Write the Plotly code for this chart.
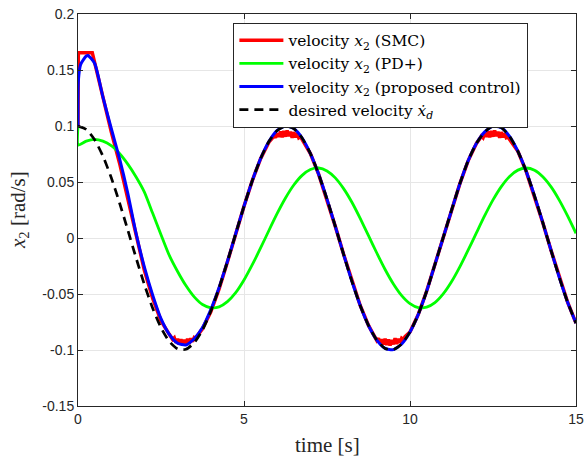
import plotly.graph_objects as go

# ---------------- data ----------------
# common time grid (s)
time = [0, 0.25, 0.5, 0.75, 1.0, 1.25, 1.5, 1.75, 2.0, 2.25, 2.5, 2.75, 3.0, 3.25, 3.5, 3.75,
        4.0, 4.25, 4.5, 4.75, 5.0, 5.25, 5.5, 5.75, 6.0, 6.25, 6.5, 6.75, 7.0, 7.25, 7.5, 7.75,
        8.0, 8.25, 8.5, 8.75, 9.0, 9.25, 9.5, 9.75, 10.0, 10.25, 10.5, 10.75, 11.0, 11.25, 11.5,
        11.75, 12.0, 12.25, 12.5, 12.75, 13.0, 13.25, 13.5, 13.75, 14.0, 14.25, 14.5, 14.75, 15.0]

# desired velocity (black dashed)
desired_vel = [0.1000, 0.0969, 0.0878, 0.0732, 0.0540, 0.0315, 0.0071, -0.0178, -0.0416, -0.0628,
               -0.0801, -0.0924, -0.0990, -0.0994, -0.0936, -0.0821, -0.0654, -0.0446, -0.0211,
               0.0038, 0.0284, 0.0512, 0.0709, 0.0861, 0.0960, 0.1000, 0.0977, 0.0893, 0.0754,
               0.0568, 0.0347, 0.0104, -0.0146, -0.0387, -0.0602, -0.0781, -0.0911, -0.0986,
               -0.0997, -0.0946, -0.0839, -0.0682, -0.0476, -0.0237, 0.0004, 0.0246, 0.0483,
               0.0689, 0.0844, 0.0947, 0.0998, 0.0986, 0.0907, 0.0774, 0.0595, 0.0376, 0.0137,
               -0.0112, -0.0355, -0.0576, -0.0760]

# PD+ (green)
pd_time = [0, 0.01] + time[1:]
pd_vel = [0.1000, 0.0830, 0.0865, 0.0880, 0.0865, 0.0825, 0.0755, 0.0660, 0.0545, 0.0410, 0.0220,
          0.0030, -0.0155, -0.0299, -0.0425, -0.0526, -0.0594, -0.0623, -0.0615, -0.0568,
          -0.0488, -0.0375, -0.0238, -0.0089, 0.0067, 0.0219, 0.0357, 0.0473, 0.0559, 0.0611,
          0.0625, 0.0599, 0.0537, 0.0441, 0.0319, 0.0175, 0.0021, -0.0134, -0.0281, -0.0410,
          -0.0514, -0.0586, -0.0622, -0.0618, -0.0577, -0.0499, -0.0391, -0.0258, -0.0109,
          0.0046, 0.0199, 0.0340, 0.0459, 0.0550, 0.0606, 0.0625, 0.0605, 0.0547, 0.0456,
          0.0336, 0.0195, 0.0042]

# proposed control (blue)
prop_time = [0, 0.01, 0.08, 0.25, 0.3, 0.5, 0.75, 1.0, 1.25, 1.5, 1.75, 2.0, 2.25, 2.5, 2.75,
             3.0, 3.25, 3.5, 3.75, 4.0, 4.25, 4.5] + time[19:]
prop_vel = [0.1000, 0.1400, 0.1550, 0.1625, 0.1630, 0.1560, 0.1260, 0.0980, 0.0710, 0.0400,
            0.0040, -0.0260, -0.0510, -0.0720, -0.0860, -0.0940, -0.0955, -0.0900, -0.0800,
            -0.0640, -0.0442, -0.0210] + desired_vel[19:]

# SMC (red) - transient, chattering around the extrema
smc_time = [0, 0.01, 0.43, 0.5, 0.75, 1.0, 1.25, 1.5, 1.75, 2.0, 2.25, 2.5, 2.75,
            2.8, 2.85, 2.9, 2.95, 3.0, 3.05, 3.1, 3.15, 3.2, 3.25, 3.3, 3.35, 3.4, 3.45, 3.5, 3.55, 3.6,
            3.75, 4.0, 4.25, 4.5, 4.75, 5.0, 5.25, 5.5, 5.75,
            5.85, 5.9, 5.95, 6.0, 6.05, 6.1, 6.15, 6.2, 6.25, 6.3, 6.35, 6.4, 6.45, 6.5, 6.55, 6.6, 6.65, 6.7, 6.75,
            7.0, 7.25, 7.5, 7.75, 8.0, 8.25, 8.5, 8.75,
            8.95, 9.0, 9.05, 9.1, 9.15, 9.2, 9.25, 9.3, 9.35, 9.4, 9.45, 9.5, 9.55, 9.6, 9.65, 9.7, 9.75, 9.8, 9.85,
            10.0, 10.25, 10.5, 10.75, 11.0, 11.25, 11.5, 11.75, 12.0,
            12.1, 12.15, 12.2, 12.25, 12.3, 12.35, 12.4, 12.45, 12.5, 12.55, 12.6, 12.65, 12.7, 12.75, 12.8, 12.85, 12.9, 12.95, 13.0,
            13.25, 13.5, 13.75, 14.0, 14.25, 14.5, 14.75, 15.0]
smc_vel = [0.1000, 0.1655, 0.1655, 0.1570, 0.1240, 0.0950, 0.0670, 0.0350, 0.0000, -0.0290, -0.0540, -0.0740, -0.0860,
           -0.0880, -0.0905, -0.0890, -0.0935, -0.0900, -0.0950, -0.0905, -0.0955, -0.0910, -0.0950, -0.0900,
           -0.0945, -0.0895, -0.0925, -0.0890, -0.0900, -0.0870,
           -0.0810, -0.0660, -0.0455, -0.0215, 0.0038, 0.0284, 0.0512, 0.0709, 0.0855,
           0.0890, 0.0920, 0.0895, 0.0935, 0.0905, 0.0950, 0.0900, 0.0955, 0.0905, 0.0960, 0.0910, 0.0950,
           0.0895, 0.0945, 0.0900, 0.0935, 0.0895, 0.0905, 0.0880,
           0.0754, 0.0568, 0.0347, 0.0104, -0.0146, -0.0387, -0.0602, -0.0781,
           -0.0890, -0.0915, -0.0895, -0.0935, -0.0905, -0.0950, -0.0900, -0.0955, -0.0905, -0.0960, -0.0910,
           -0.0950, -0.0895, -0.0945, -0.0900, -0.0935, -0.0895, -0.0905, -0.0880,
           -0.0839, -0.0682, -0.0476, -0.0237, 0.0004, 0.0246, 0.0483, 0.0689, 0.0844,
           0.0885, 0.0910, 0.0895, 0.0935, 0.0905, 0.0950, 0.0900, 0.0955, 0.0905, 0.0960, 0.0910, 0.0950,
           0.0895, 0.0945, 0.0900, 0.0935, 0.0895, 0.0900, 0.0880,
           0.0774, 0.0595, 0.0376, 0.0137, -0.0112, -0.0355, -0.0576, -0.0760]

series_names = ["velocity <i>x</i><sub>2</sub> (SMC)",
                "velocity <i>x</i><sub>2</sub> (PD+)",
                "velocity <i>x</i><sub>2</sub> (proposed control)",
                "desired velocity <i>ẋ</i><sub><i>d</i></sub>"]

x_tick_vals = [0, 5, 10, 15]
x_tick_text = ["0", "5", "10", "15"]
y_tick_vals = [-0.15, -0.1, -0.05, 0, 0.05, 0.1, 0.15, 0.2]
y_tick_text = ["-0.15", "-0.1", "-0.05", "0", "0.05", "0.1", "0.15", "0.2"]

# ---------------- figure ----------------
fig = go.Figure()
fig.add_trace(go.Scatter(x=smc_time, y=smc_vel, mode="lines", name=series_names[0],
                         line=dict(color="#ff0000", width=3.5)))
fig.add_trace(go.Scatter(x=pd_time, y=pd_vel, mode="lines", name=series_names[1],
                         line=dict(color="#00ff00", width=2.8, shape="spline", smoothing=0.6)))
fig.add_trace(go.Scatter(x=prop_time, y=prop_vel, mode="lines", name=series_names[2],
                         line=dict(color="#0000ff", width=3.0, shape="spline", smoothing=0.6)))
fig.add_trace(go.Scatter(x=time, y=desired_vel, mode="lines", name=series_names[3],
                         line=dict(color="#000000", width=2.7, dash="9px,6px", shape="spline", smoothing=0.6)))

axis_common = dict(showline=True, linecolor="#262626", linewidth=1, mirror="allticks",
                   ticks="inside", ticklen=5, tickcolor="#262626", tickwidth=1,
                   showgrid=True, gridcolor="#e6e6e6", gridwidth=1, zeroline=False,
                   automargin=False,
                   tickfont=dict(family="Liberation Sans, Arial", size=14, color="#262626"))

fig.update_xaxes(range=[0, 15], tickvals=x_tick_vals, ticktext=x_tick_text, **axis_common)
fig.update_yaxes(range=[-0.15, 0.2], tickvals=y_tick_vals, ticktext=y_tick_text, **axis_common)

fig.add_annotation(text="time [s]", xref="paper", yref="paper", x=0.5, y=-0.0995,
                   xanchor="center", yanchor="middle", showarrow=False,
                   font=dict(family="Liberation Serif, serif", size=21, color="#262626"))
fig.add_annotation(text="<i>x</i><sub>2</sub> [rad/s]", xref="paper", yref="paper",
                   x=-0.1185, y=0.5, xanchor="center", yanchor="middle", textangle=-90,
                   showarrow=False,
                   font=dict(family="Liberation Serif, serif", size=21, color="#262626"))

fig.update_layout(
    width=584, height=462,
    margin=dict(l=78, r=8, t=14, b=56),
    paper_bgcolor="white", plot_bgcolor="white",
    showlegend=True,
    legend=dict(x=0.312, y=0.978, xanchor="left", yanchor="top",
                bgcolor="white", bordercolor="#262626", borderwidth=1,
                font=dict(family="DejaVu Serif, serif", size=15.5, color="black"),
                tracegroupgap=0, itemwidth=44),
)

fig.write_html("out.html")
